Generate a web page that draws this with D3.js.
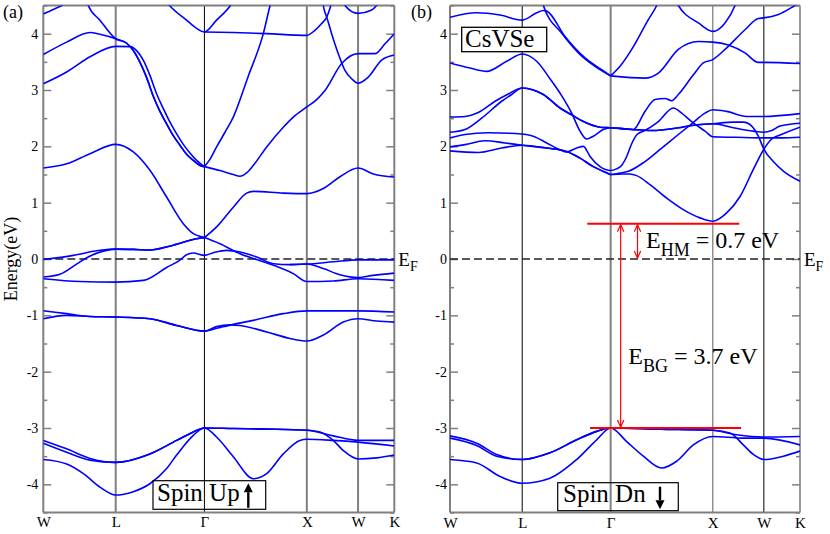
<!DOCTYPE html>
<html><head><meta charset="utf-8">
<script src="https://cdn.jsdelivr.net/npm/d3@7"></script>
<style>body{margin:0;background:#fff} svg text{font-family:"Liberation Serif","Times New Roman",Tinos,"DejaVu Serif",serif !important}</style>
</head><body><svg id="c" width="830" height="534" font-family="Liberation Serif, Times New Roman, DejaVu Serif, serif"></svg>
<script>
// ---------- k-path ----------
const kPoints = [0, 0.707, 1.573, 2.573, 3.073, 3.427];
const kLabels = ["W", "L", "\u0393", "X", "W", "K"];
const yMajor = [-4, -3, -2, -1, 0, 1, 2, 3, 4];
const yMinor = [-4.5, -3.5, -2.5, -1.5, -0.5, 0.5, 1.5, 2.5, 3.5, 4.5];

// ---------- Spin up bands ----------
const up_u1 = [[0,4.35],[0.098,4.43],[0.179,4.50],[0.26,4.62],[0.33,4.75]];
const upA_WL = [[0,3.63],[0.228,3.85],[0.456,4.02],[0.553,3.99],[0.707,3.91]];
const upC_WL = [[0.40,4.75],[0.439,4.50],[0.553,4.24],[0.707,3.91]];
const upA_LG = [[0.814,3.83],[0.879,3.70],[0.944,3.49],[1.009,3.22],[1.074,2.89],[1.139,2.62],[1.204,2.40],[1.269,2.19],[1.334,2.02],[1.399,1.86],[1.465,1.75],[1.530,1.66],[1.573,1.64]];
const up_b = [[0,3.11],[0.228,3.32],[0.456,3.59],[0.707,3.775],[0.846,3.77],[0.911,3.70],[0.976,3.53],[1.041,3.26],[1.107,2.93],[1.172,2.67],[1.237,2.43],[1.302,2.22],[1.367,2.035],[1.432,1.88],[1.497,1.75],[1.573,1.64]];
const up_d = [[1.14,4.72],[1.237,4.49],[1.399,4.24],[1.50,4.09],[1.573,4.03],[1.692,4.24],[1.823,4.49],[1.90,4.72]];
const up_e = [[1.573,4.03],[1.855,4.02],[2.181,4.0],[2.573,3.97],[2.652,4.06],[2.718,4.18],[2.766,4.29],[2.799,4.45],[2.831,4.7]];
const up_f = [[2.72,4.75],[2.734,4.50],[2.760,4.33],[2.783,4.2],[2.815,4.0],[2.880,3.645],[2.945,3.35],[3.010,3.20],[3.073,3.12],[3.173,3.23],[3.303,3.53],[3.427,3.62]];
const up_g = [[2.90,4.65],[2.945,4.50],[3.073,4.36],[3.206,4.42],[3.254,4.50],[3.30,4.62]];
const up_h = [[1.573,1.64],[1.62,1.75],[1.692,1.99],[1.774,2.25],[1.855,2.52],[2.002,3.25],[2.148,4.0],[2.213,4.49],[2.278,4.9]];
const up_i = [[1.573,1.64],[1.725,1.57],[1.855,1.50],[1.920,1.47],[1.985,1.53],[2.050,1.66],[2.181,1.99],[2.343,2.34],[2.441,2.52],[2.573,2.70],[2.669,2.83],[2.750,2.99],[2.913,3.47],[3.073,3.645],[3.238,3.645],[3.336,3.82],[3.427,4.0]];
const up_j = [[1.573,0.38],[1.692,0.57],[1.855,0.92],[1.985,1.17],[2.050,1.20],[2.343,1.17],[2.573,1.16],[2.734,1.25],[2.897,1.46],[3.073,1.615],[3.222,1.51],[3.427,1.455]];
const upK_WG = [[0,1.615],[0.228,1.69],[0.456,1.87],[0.707,2.035],[0.879,1.90],[1.041,1.574],[1.204,1.10],[1.367,0.627],[1.465,0.45]];
const upP_GK = [[1.573,0.38],[1.725,0.27],[1.920,0.095],[2.083,-0.01],[2.246,-0.11],[2.441,-0.26],[2.573,-0.40],[2.831,-0.39],[3.073,-0.35],[3.427,-0.38]];
const up_q = [[0,-0.35],[0.358,-0.40],[0.707,-0.41],[0.977,-0.38],[1.204,-0.15],[1.334,-0.02],[1.399,0.077],[1.465,0.107],[1.573,0.065],[1.660,0.112],[1.790,0.154],[1.920,0.124],[2.083,0.036],[2.246,-0.083],[2.408,-0.10],[2.573,-0.09],[2.831,-0.05],[3.073,-0.015],[3.427,-0.015]];
const up_r = [[2.408,-0.10],[2.573,-0.09],[2.734,-0.17],[2.897,-0.28],[3.073,-0.33],[3.222,-0.29],[3.427,-0.25]];
const upS_WL = [[0,-0.01],[0.293,0.065],[0.553,0.154],[0.707,0.175]];
const upT_WL = [[0,-0.32],[0.163,-0.27],[0.325,-0.09],[0.439,0.036],[0.586,0.14],[0.707,0.175]];
const upS_LG = [[0.879,0.17],[1.041,0.16],[1.269,0.245],[1.497,0.36],[1.573,0.38]];
const upM1_WL = [[0,-0.92],[0.228,-0.97],[0.456,-1.02]];
const upM2_WL = [[0,-1.06],[0.228,-1.0],[0.456,-1.02]];
const upM_LG = [[0.707,-1.03],[1.041,-1.06],[1.302,-1.18],[1.573,-1.28]];
const upM1_GK = [[1.692,-1.23],[1.855,-1.16],[2.050,-1.09],[2.343,-0.97],[2.573,-0.92],[3.073,-0.92],[3.427,-0.94]];
const upM2_GK = [[1.692,-1.20],[1.823,-1.17],[1.920,-1.18],[2.181,-1.295],[2.408,-1.41],[2.573,-1.455],[2.734,-1.35],[2.929,-1.12],[3.073,-1.06],[3.254,-1.10],[3.427,-1.12]];
const upV1_WL = [[0,-3.22],[0.228,-3.37],[0.456,-3.54]];
const upV2_WL = [[0,-3.27],[0.228,-3.43],[0.456,-3.57]];
const upV_LX = [[0.707,-3.61],[1.041,-3.46],[1.302,-3.22],[1.465,-3.07],[1.573,-3.0],[1.855,-3.01],[2.181,-3.02],[2.573,-3.04]];
const upV1_XK = [[2.831,-3.14],[3.073,-3.22],[3.427,-3.22]];
const upV2_XK = [[2.701,-3.07],[2.831,-3.22],[2.929,-3.40],[3.073,-3.55],[3.254,-3.53],[3.427,-3.48]];
const up_v3 = [[0,-3.56],[0.228,-3.64],[0.391,-3.81],[0.553,-4.05],[0.707,-4.19],[0.879,-4.13],[1.041,-3.99],[1.204,-3.72],[1.302,-3.48],[1.465,-3.13],[1.573,-3.0],[1.692,-3.16],[1.855,-3.51],[2.050,-3.90],[2.181,-3.81],[2.343,-3.46],[2.506,-3.22],[2.573,-3.20],[2.831,-3.22],[3.073,-3.25],[3.427,-3.32]];

// ---------- Spin down bands ----------
const dn_R1 = [[0,4.29],[0.261,4.37],[0.490,4.33],[0.707,4.24],[0.849,4.37],[0.914,4.41],[0.947,4.40],[1.126,3.95],[1.322,3.57],[1.485,3.36],[1.573,3.25]];
const dn_R2 = [[0.88,4.72],[0.914,4.50],[1.093,4.01],[1.257,3.66],[1.420,3.42],[1.573,3.25]];
const dn_S1 = [[1.573,3.25],[1.665,3.42],[1.779,3.72],[1.942,4.25],[2.024,4.5],[2.089,4.8]];
const dn_S2 = [[1.573,3.25],[1.909,3.21],[2.040,3.30],[2.236,3.72],[2.432,3.86],[2.573,3.85],[2.725,3.80],[2.888,3.66],[3.019,3.49],[3.073,3.49],[3.427,3.47]];
const dn_T = [[2.154,4.8],[2.236,4.5],[2.432,4.19],[2.573,4.04],[2.693,4.19],[2.791,4.5],[2.840,4.75]];
const dn_F = [[0,3.48],[0.196,3.39],[0.359,3.33],[0.555,3.51],[0.707,3.64],[0.849,3.51],[0.979,3.20],[1.093,2.90],[1.191,2.59],[1.273,2.27],[1.338,2.13],[1.403,2.18],[1.501,2.30],[1.573,2.33],[1.697,2.31],[1.795,2.30],[1.909,2.62],[2.007,2.83],[2.105,2.85],[2.170,2.81],[2.236,2.92],[2.383,3.27],[2.480,3.48],[2.573,3.54],[2.693,3.72],[2.888,4.07],[3.019,4.27],[3.073,4.28],[3.215,4.34],[3.378,4.5],[3.427,4.55]];
const dnG_WL = [[0,2.52],[0.147,2.53],[0.277,2.60],[0.441,2.80],[0.571,2.93],[0.707,3.035]];
const dnG2_WL = [[0,2.25],[0.147,2.30],[0.310,2.50],[0.506,2.80],[0.604,2.92],[0.707,3.035]];
const dnG_LX = [[0.816,3.0],[0.914,2.92],[1.077,2.68],[1.191,2.56],[1.306,2.44],[1.469,2.34],[1.573,2.33],[1.779,2.30],[1.975,2.28],[2.236,2.33],[2.366,2.37],[2.573,2.40]];
const dnG_XK = [[2.774,2.43],[2.872,2.43],[2.954,2.36],[3.019,2.18],[3.073,1.95],[3.166,1.73],[3.264,1.56],[3.427,1.38]];
const dnG2_XK = [[2.774,2.33],[2.970,2.27],[3.073,2.25],[3.150,2.28],[3.231,2.36],[3.427,2.41]];
const dn_H = [[0,2.15],[0.147,2.21],[0.375,2.24],[0.707,2.22],[0.816,2.18],[0.947,2.06],[1.077,1.94],[1.142,1.90],[1.240,1.97],[1.306,2.0],[1.371,1.82],[1.469,1.64],[1.573,1.57],[1.630,1.60],[1.680,1.66],[1.730,1.82],[1.780,2.05],[1.831,2.21],[1.909,2.28],[2.040,2.44],[2.187,2.68],[2.268,2.59],[2.366,2.44],[2.497,2.27],[2.573,2.17],[2.80,2.16],[3.073,2.15],[3.25,2.15],[3.427,2.16]];
const dnI_WL = [[0,1.99],[0.147,2.03],[0.343,2.10],[0.539,2.06],[0.707,2.02]];
const dnI2_WL = [[0,1.92],[0.277,1.89],[0.506,1.97],[0.707,2.02]];
const dnI_LG = [[0.947,1.97],[1.142,1.91],[1.273,1.79],[1.403,1.64],[1.534,1.53],[1.573,1.50]];
const dnI_GK = [[1.664,1.525],[1.746,1.556],[1.909,1.73],[2.073,1.97],[2.236,2.21],[2.366,2.40],[2.497,2.59],[2.573,2.65],[2.709,2.62],[2.905,2.53],[3.073,2.53],[3.427,2.58]];
const dnI2_GK = [[1.70,1.51],[1.762,1.51],[1.828,1.48],[1.958,1.32],[2.122,1.08],[2.284,0.876],[2.448,0.73],[2.573,0.67],[2.709,0.82],[2.840,1.11],[2.970,1.59],[3.073,1.95],[3.150,2.13],[3.231,2.20],[3.427,2.34]];
const dnD1_WL = [[0,-3.14],[0.261,-3.27],[0.457,-3.47]];
const dnD2_WL = [[0,-3.18],[0.261,-3.31],[0.457,-3.50]];
const dnD_LX = [[0.707,-3.56],[0.979,-3.44],[1.240,-3.21],[1.436,-3.06],[1.573,-3.0],[2.056,-3.02],[2.573,-3.04]];
const dnD1_XK = [[2.807,-3.12],[3.073,-3.16],[3.427,-3.15]];
const dnD4_XK = [[2.742,-3.09],[2.872,-3.30],[2.970,-3.47],[3.073,-3.56],[3.264,-3.50],[3.427,-3.41]];
const dn_D3 = [[0,-3.56],[0.261,-3.62],[0.490,-3.86],[0.707,-3.98],[0.979,-3.89],[1.240,-3.56],[1.436,-3.21],[1.573,-3.0],[1.730,-3.24],[1.893,-3.50],[2.073,-3.71],[2.219,-3.59],[2.383,-3.30],[2.573,-3.15],[2.872,-3.18],[3.073,-3.18],[3.427,-3.30]];

// ---------- annotation values ----------
const eHM = 0.627, eVBM = -3.0;
const redTopK = [1.344, 2.833], redBotK = [1.371, 2.850];
const arrowBG_k = 1.671, arrowHM_k = 1.836;

const bandsUp = [up_u1, upA_WL.concat(upA_LG), upC_WL.concat(upA_LG), up_b, up_d, up_e, up_f, up_g, up_h, up_i, up_j,
  upK_WG.concat(upP_GK), up_q, up_r, upS_WL.concat(upS_LG), upT_WL.concat(upS_LG),
  upM1_WL.concat(upM_LG, upM1_GK), upM2_WL.concat(upM_LG, upM2_GK),
  upV1_WL.concat(upV_LX, upV1_XK), upV2_WL.concat(upV_LX, upV2_XK), up_v3];
const bandsDn = [dn_R1, dn_R2, dn_S1, dn_S2, dn_T, dn_F,
  dnG_WL.concat(dnG_LX, dnG_XK), dnG2_WL.concat(dnG_LX, dnG2_XK), dn_H,
  dnI_WL.concat(dnI_LG, dnI_GK), dnI2_WL.concat(dnI_LG, dnI2_GK),
  dnD1_WL.concat(dnD_LX, dnD1_XK), dnD2_WL.concat(dnD_LX, dnD4_XK), dn_D3];

// ---------- drawing ----------
const FONT = "Liberation Serif, Times New Roman, DejaVu Serif, serif";
const svg = d3.select("#c");
const y = d3.scaleLinear().domain([-4.5, 4.5]).range([512.5, 5.5]);
const GRAY = "#808080";

function panel(cfg) {
  const x = d3.scaleLinear().domain([0, kPoints[kPoints.length - 1]]).range([cfg.x0, cfg.x1]);
  const g = svg.append("g");
  svg.append("clipPath").attr("id", "clip" + cfg.id).append("rect")
    .attr("x", cfg.x0).attr("y", y(4.5)).attr("width", cfg.x1 - cfg.x0).attr("height", y(-4.5) - y(4.5));

  g.selectAll("line.v").data(kPoints).join("line").attr("class", "v")
    .attr("x1", d => x(d)).attr("x2", d => x(d)).attr("y1", y(4.5)).attr("y2", y(-4.5))
    .attr("stroke", (d, i) => cfg.vColor[i]).attr("stroke-width", (d, i) => cfg.vWidth[i]);
  [4.5, -4.5].forEach(v => g.append("line").attr("x1", cfg.x0).attr("x2", cfg.x1)
    .attr("y1", y(v)).attr("y2", y(v)).attr("stroke", GRAY).attr("stroke-width", 2));

  const axL = g.append("g").attr("transform", `translate(${cfg.x0},0)`)
    .call(d3.axisLeft(y).tickValues(yMajor).tickSize(-8).tickPadding(cfg.pad).tickFormat(d => String(d)));
  const axLm = g.append("g").attr("transform", `translate(${cfg.x0},0)`)
    .call(d3.axisLeft(y).tickValues(yMinor).tickSize(-4).tickFormat(""));
  const axR = g.append("g").attr("transform", `translate(${cfg.x1},0)`)
    .call(d3.axisRight(y).tickValues(yMajor).tickSize(-8).tickFormat(""));
  const axRm = g.append("g").attr("transform", `translate(${cfg.x1},0)`)
    .call(d3.axisRight(y).tickValues(yMinor).tickSize(-4).tickFormat(""));
  [axL, axLm, axR, axRm].forEach(a => {
    a.attr("font-family", FONT);
    a.select(".domain").remove();
    a.selectAll("line").attr("stroke", GRAY).attr("stroke-width", 1.5);
  });
  axL.selectAll("text").attr("font-size", 14).attr("font-family", FONT).attr("fill", "#000");

  const axB = g.append("g").attr("transform", `translate(0,${y(-4.5)})`)
    .call(d3.axisBottom(x).tickValues(kPoints).tickSize(0).tickPadding(cfg.xpad).tickFormat((d, i) => kLabels[i]));
  axB.attr("font-family", FONT);
  axB.select(".domain").remove();
  axB.selectAll("text").attr("font-size", 15).attr("font-family", FONT).attr("fill", "#000");

  g.append("line").attr("x1", cfg.x0).attr("x2", cfg.x1).attr("y1", y(0)).attr("y2", y(0))
    .attr("stroke", "#222").attr("stroke-width", 1.3).attr("stroke-dasharray", "8,4");

  const line = d3.line().x(d => x(d[0])).y(d => y(d[1])).curve(d3.curveMonotoneX);
  g.append("g").attr("clip-path", `url(#clip${cfg.id})`)
    .selectAll("path").data(cfg.bands).join("path")
    .attr("d", line).attr("fill", "none").attr("stroke", "#0000ff").attr("stroke-width", 1.6);

  const ef = g.append("text").attr("x", cfg.x1 + 4).attr("y", y(0) + 7).attr("font-size", 19).attr("font-family", FONT);
  ef.append("tspan").text("E");
  ef.append("tspan").attr("font-size", 14).attr("dy", 5).text("F");

  g.append("text").attr("x", cfg.letterX).attr("y", 18).attr("font-size", 18).attr("font-family", FONT).text(cfg.letter);
  return x;
}

const xUp = panel({id: "a", x0: 43.3, x1: 394.3, bands: bandsUp, pad: 5, xpad: 4, letter: "(a)", letterX: 3,
  vColor: [GRAY, GRAY, "#000", GRAY, GRAY, GRAY], vWidth: [2, 2, 1, 2, 2, 2]});
const xDn = panel({id: "b", x0: 450, x1: 800, bands: bandsDn, pad: 3, xpad: 5, letter: "(b)", letterX: 411,
  vColor: [GRAY, "#000", GRAY, GRAY, "#000", GRAY], vWidth: [2, 1, 2, 1.3, 1, 1.6]});

svg.append("text").attr("transform", `translate(13,${y(0)}) rotate(-90)`).attr("text-anchor", "middle")
  .attr("dominant-baseline", "middle").attr("font-size", 18).attr("font-family", FONT).text("Energy(eV)");

function spinBox(x0, y0, w, h, label, tx, ty, ax, up) {
  svg.append("rect").attr("x", x0).attr("y", y0).attr("width", w).attr("height", h)
    .attr("fill", "none").attr("stroke", "#000").attr("stroke-width", 1.2);
  svg.append("text").attr("x", tx).attr("y", ty).attr("font-size", 25).attr("font-family", FONT).text(label);
  const tip = up ? y0 + 2.5 : y0 + h - 1.5;
  const base = up ? tip + 9 : tip - 9;
  const tail = up ? y0 + h - 1.5 : y0 + 4;
  svg.append("line").attr("x1", ax).attr("x2", ax).attr("y1", tail).attr("y2", base).attr("stroke", "#000").attr("stroke-width", 2.4);
  svg.append("path").attr("d", `M${ax},${tip}L${ax - 4.5},${base}L${ax + 4.5},${base}Z`).attr("fill", "#000");
}
spinBox(153, 480.7, 112.7, 28.6, "Spin Up", 157, 501, 248.3, true);
spinBox(557.7, 482.7, 120.6, 28, "Spin Dn", 563, 502, 660, false);

svg.append("rect").attr("x", 461.7).attr("y", 27.3).attr("width", 85).attr("height", 24.4)
  .attr("fill", "#fff").attr("stroke", "#000").attr("stroke-width", 1.3);
svg.append("text").attr("x", 465).attr("y", 46.7).attr("font-size", 25).attr("font-family", FONT).text("CsVSe");

const red = "#ff0000";
const ann = svg.append("g");
ann.append("line").attr("x1", xDn(redTopK[0])).attr("x2", xDn(redTopK[1])).attr("y1", y(eHM)).attr("y2", y(eHM)).attr("stroke", red).attr("stroke-width", 2);
ann.append("line").attr("x1", xDn(redBotK[0])).attr("x2", xDn(redBotK[1])).attr("y1", y(eVBM)).attr("y2", y(eVBM)).attr("stroke", red).attr("stroke-width", 2);
function dblArrow(k, e1, e2) {
  const xx = xDn(k), ya = y(e1), yb = y(e2);
  ann.append("line").attr("x1", xx).attr("x2", xx).attr("y1", ya + 1).attr("y2", yb - 1).attr("stroke", red).attr("stroke-width", 1.2);
  ann.append("path").attr("d", `M${xx - 3.2},${ya + 8}L${xx},${ya + 1}L${xx + 3.2},${ya + 8}`).attr("fill", "none").attr("stroke", red).attr("stroke-width", 1.2);
  ann.append("path").attr("d", `M${xx - 3.2},${yb - 8}L${xx},${yb - 1}L${xx + 3.2},${yb - 8}`).attr("fill", "none").attr("stroke", red).attr("stroke-width", 1.2);
}
dblArrow(arrowBG_k, eHM, eVBM);
dblArrow(arrowHM_k, eHM, 0);

function gapLabel(k, e, sub, rest) {
  const t = svg.append("text").attr("x", xDn(k)).attr("y", y(e)).attr("font-size", 24).attr("font-family", FONT);
  t.append("tspan").text("E");
  t.append("tspan").attr("font-size", 18).attr("dy", 8).text(sub);
  t.append("tspan").attr("dy", -8).text(rest);
}
gapLabel(1.919, 0.19, "HM", " = 0.7 eV");
gapLabel(1.746, -1.864, "BG", " = 3.7 eV");
</script></body></html>
